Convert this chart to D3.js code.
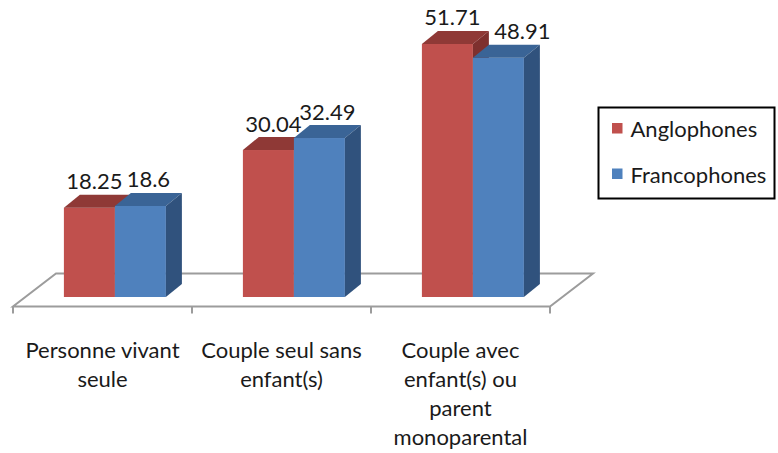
<!DOCTYPE html>
<html>
<head>
<meta charset="utf-8">
<script src="https://cdn.jsdelivr.net/npm/d3@7"></script>
<style>
  html, body { margin: 0; padding: 0; background: #fff; }
  svg { display: block; }
  text { font-family: "Lato", "Liberation Sans", Arial, sans-serif; fill: #1a1a1a; }
</style>
</head>
<body>
<svg id="chart" width="778" height="453"></svg>
<script>
const categories = [
  ["Personne vivant", "seule"],
  ["Couple seul sans", "enfant(s)"],
  ["Couple avec", "enfant(s) ou", "parent", "monoparental"]
];
const seriesNames = ["Anglophones", "Francophones"];
const anglophones = [18.25, 30.04, 51.71];
const francophones = [18.6, 32.49, 48.91];
const seriesValues = [anglophones, francophones];
const seriesColors = [
  { front: "#C0504D", top: "#8F3936", side: "#7E302E" },
  { front: "#4F81BD", top: "#3A6496", side: "#30527D" }
];

const svg = d3.select("#chart");
const FS = 22;

// floor geometry
const floorFrontY = 306.5;
const floorDX = 43, floorDY = -33;
const barShiftX = 12.4, barShiftY = -9.5;
const barDX = 16, barDY = -13;

const x = d3.scaleBand().domain(d3.range(categories.length)).range([13, 550]).paddingInner(0).paddingOuter(0);
const step = x.bandwidth();
const inner = d3.scaleBand().domain(d3.range(seriesNames.length))
  .range([step / 2 - 51, step / 2 + 51]).padding(0);

const baseY = floorFrontY + barShiftY;
const y = d3.scaleLinear().domain([0, 60]).range([baseY, baseY - 60 * 4.893]);

// floor
const x0 = x.range()[0], x1 = x.range()[1];
const floor = svg.append("g");
floor.append("path")
  .attr("d", `M${x0},${floorFrontY} L${x1},${floorFrontY} L${x1 + floorDX},${floorFrontY + floorDY} L${x0 + floorDX},${floorFrontY + floorDY} Z`)
  .attr("fill", "#fff").attr("stroke", "#9c9c9c").attr("stroke-width", 2);
const tickXs = d3.range(categories.length + 1).map(i => x0 + i * step);
floor.selectAll("line.tick").data(tickXs).join("line")
  .attr("x1", d => d).attr("x2", d => d)
  .attr("y1", floorFrontY).attr("y2", floorFrontY + 7)
  .attr("stroke", "#9c9c9c").attr("stroke-width", 2);

// bars
const bars = svg.append("g");
categories.forEach((c, ci) => {
  seriesValues.forEach((vals, si) => {
    const v = vals[ci];
    const xl = x(ci) + barShiftX + inner(si);
    const w = inner.bandwidth();
    const yt = y(v), yb = y(0);
    const col = seriesColors[si];
    const g = bars.append("g");
    g.append("rect").attr("x", xl).attr("y", yt).attr("width", w).attr("height", yb - yt)
      .attr("fill", col.front);
    g.append("path")
      .attr("d", `M${xl},${yt} L${xl + w},${yt} L${xl + w + barDX},${yt + barDY} L${xl + barDX},${yt + barDY} Z`)
      .attr("fill", col.top);
    g.append("path")
      .attr("d", `M${xl + w},${yt} L${xl + w + barDX},${yt + barDY} L${xl + w + barDX},${yb + barDY} L${xl + w},${yb} Z`)
      .attr("fill", col.side);
  });
});

// value labels
const labels = svg.append("g");
categories.forEach((c, ci) => {
  seriesValues.forEach((vals, si) => {
    const v = vals[ci];
    const xl = x(ci) + barShiftX + inner(si);
    const w = inner.bandwidth();
    let cx = xl + w / 2 + barDX / 2;
    const other = seriesValues[1 - si][ci];
    if (si === 0) cx -= 3;
    if (si === 1 && other > v) cx += 16;
    labels.append("text")
      .attr("x", cx).attr("y", y(v) + barDY - 5.5)
      .attr("text-anchor", "middle")
      .attr("font-size", FS)
      .text(v);
  });
});

// category labels
const catG = svg.append("g");
categories.forEach((lines, ci) => {
  const cx = x(ci) + step / 2;
  const t = catG.append("text").attr("text-anchor", "middle").attr("font-size", FS);
  lines.forEach((ln, li) => {
    t.append("tspan").attr("x", cx).attr("y", 358 + li * 29).text(ln);
  });
});

// legend
const lg = svg.append("g");
lg.append("rect").attr("x", 598.5).attr("y", 107.5).attr("width", 176).attr("height", 91)
  .attr("fill", "#fff").attr("stroke", "#000").attr("stroke-width", 2);
seriesNames.forEach((s, i) => {
  const yy = 137 + i * 45.5;
  lg.append("rect").attr("x", 612).attr("y", yy - 14).attr("width", 10.5).attr("height", 10.5)
    .attr("fill", seriesColors[i].front);
  lg.append("text").attr("x", 630.5).attr("y", yy).attr("font-size", FS).text(s);
});
</script>
</body>
</html>
